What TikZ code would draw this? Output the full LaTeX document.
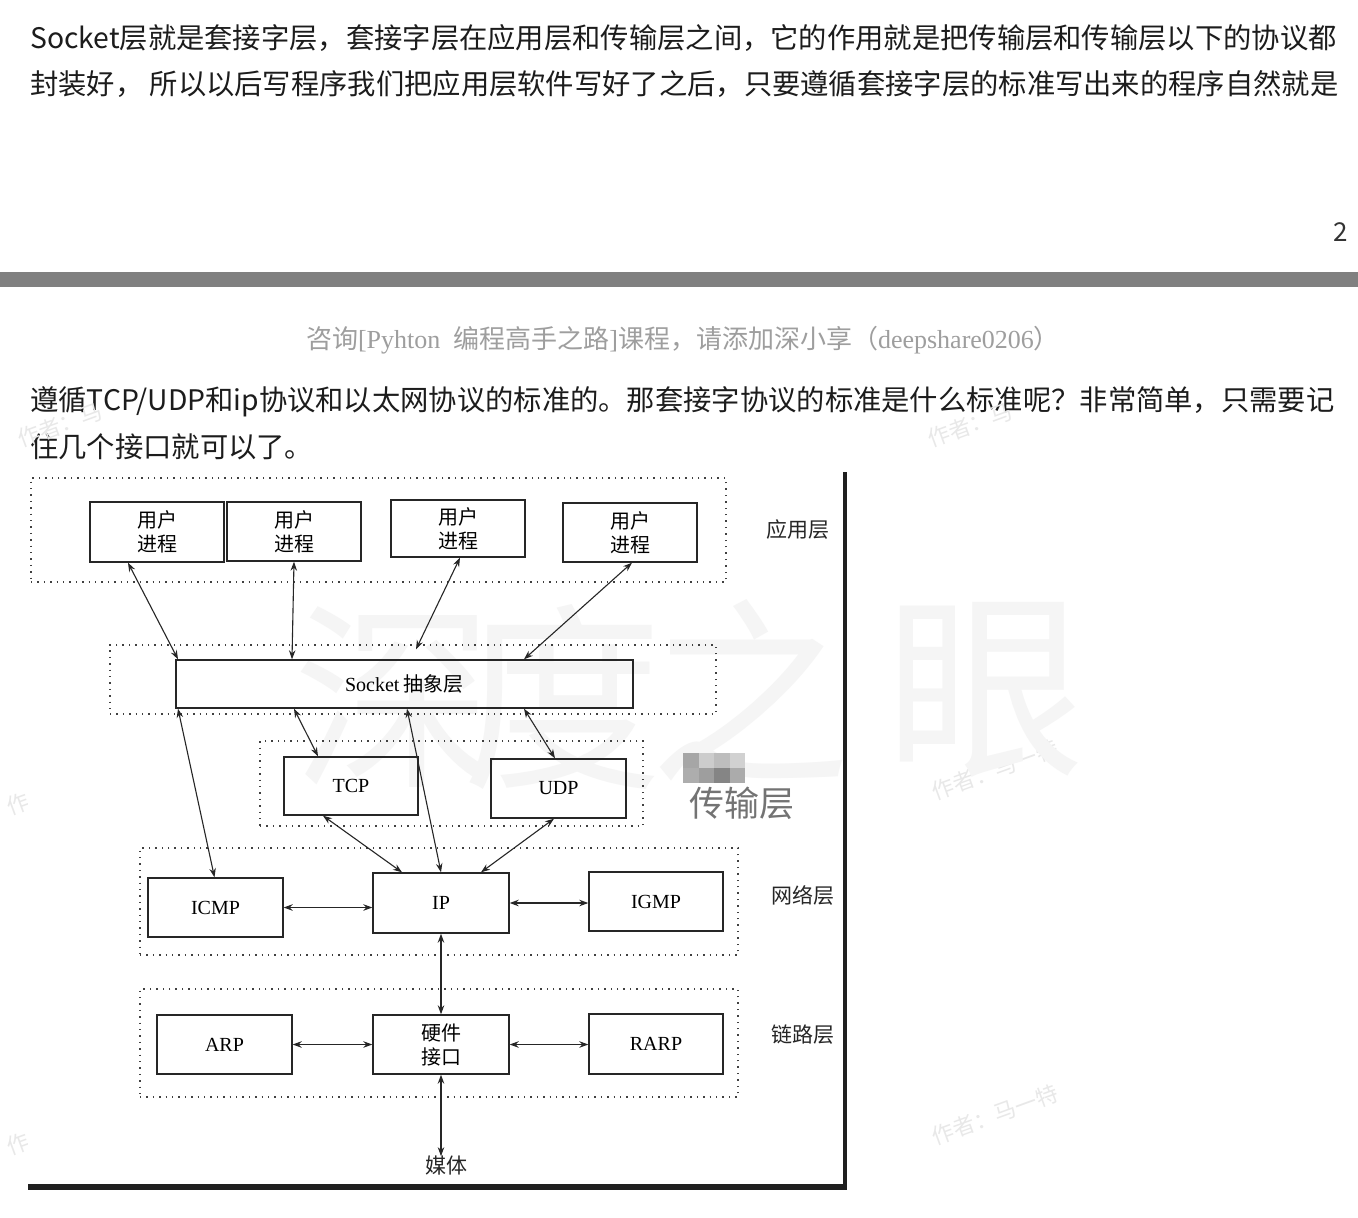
\documentclass[tikz,border=0pt]{standalone}
\usepackage{fontspec}
\usetikzlibrary{arrows.meta,calc}
\setmainfont{Noto Sans CJK SC}
\newfontfamily\cjk{Noto Sans CJK SC}
\newfontfamily\lser{Liberation Serif}
\definecolor{bodytxt}{HTML}{1C1C1C}
\begin{document}
\begin{tikzpicture}[x=1pt,y=-1pt,
  box/.style={draw=black!85,line width=1.4pt,inner sep=0pt,align=center,font=\cjk\fontsize{20}{24}\selectfont},
  lbox/.style={box,font=\lser\fontsize{20}{24}\selectfont},
  grp/.style={draw=black!75,line width=1.4pt,dash pattern=on 1.4pt off 5pt,inner sep=0pt},
  arr/.style={draw=black!85,line width=1.1pt,{Stealth[length=9pt,width=6.5pt]}-{Stealth[length=9pt,width=6.5pt]}},
  layer/.style={font=\cjk\fontsize{21}{24}\selectfont,text=black!85,inner sep=0pt},
  wm/.style={text=black!9,font=\cjk\fontsize{22}{24}\selectfont,rotate=20,inner sep=0pt},
  bigwm/.style={text=black!4,font=\cjk\fontsize{200}{200}\selectfont,inner sep=0pt},
  body/.style={anchor=west,inner sep=0pt,text=bodytxt,font=\cjk\fontsize{28.3}{34}\selectfont}]
\fill[white] (0,0) rectangle (1358,1218);
\useasboundingbox (0,0) rectangle (1358,1218);

% top text
\node[body] (t1) at (30,38) {Socket层就是套接字层，套接字层在应用层和传输层之间，它的作用就是把传输层和传输层以下的协议都};
\node[body] (t2) at (30,84) {封装好， 所以以后写程序我们把应用层软件写好了之后，只要遵循套接字层的标准写出来的程序自然就是};
\node[anchor=east,inner sep=0pt,font=\cjk\fontsize{26}{30}\selectfont,text=black!80] (pg) at (1348,232) {2};
\fill[black!50] (0,272) rectangle (1358,287);
\node[inner sep=0pt,text=black!38,font=\cjk\fontsize{26}{30}\selectfont] (cap) at (683,340)
  {咨询{\lser[Pyhton\ \ }编程高手之路{\lser]}课程，请添加深小享（{\lser deepshare0206}）};
\node[body] (t3) at (30,402) {遵循TCP/UDP和ip协议和以太网协议的标准的。那套接字协议的标准是什么标准呢？非常简单，只需要记};
\node[body] (t4) at (30,447) {住几个接口就可以了。};

% small watermarks
\node[wm] (w1) at (60,425) {作者：马};
\node[wm] (w2) at (970,425) {作者：马};
\node[wm] (w3) at (70,785) {作者：马一特};
\node[wm] (w4) at (995,770) {作者：马一特};
\node[wm] (w5) at (70,1125) {作者：马一特};
\node[wm] (w6) at (995,1115) {作者：马一特};

% diagram background and frame
\fill[white] (28,472) rectangle (843,1184);
\fill[black!88] (843,472) rectangle (846.5,1190);
\fill[black!88] (28,1184) rectangle (846.5,1190);

% big watermark
\node[bigwm] (b1) at (393,697) {深};
\node[bigwm] (b2) at (562,697) {度};
\node[bigwm] (b3) at (750,690) {之};
\node[bigwm] (b4) at (985,690) {眼};

% group boxes
\node[grp,minimum width=695pt,minimum height=104pt] (gapp) at (378.5,530) {};
\node[grp,minimum width=606pt,minimum height=69pt] (gsock) at (413,679.5) {};
\node[grp,minimum width=383pt,minimum height=85pt] (gtrans) at (451.5,783.5) {};
\node[grp,minimum width=598pt,minimum height=107pt] (gnet) at (439,901.5) {};
\node[grp,minimum width=598pt,minimum height=108pt] (glink) at (439,1043) {};

% boxes
\node[box,minimum width=134pt,minimum height=60pt] (u1) at (157,532) {用户\\进程};
\node[box,minimum width=134pt,minimum height=59pt] (u2) at (294,531.5) {用户\\进程};
\node[box,minimum width=134pt,minimum height=57pt] (u3) at (458,528.5) {用户\\进程};
\node[box,minimum width=134pt,minimum height=59pt] (u4) at (630,532.5) {用户\\进程};
\node[box,minimum width=457pt,minimum height=48pt] (sock) at (404.5,684) {{\lser Socket} 抽象层};
\node[lbox,minimum width=134pt,minimum height=58pt] (tcp) at (351,786) {TCP};
\node[lbox,minimum width=135pt,minimum height=59pt] (udp) at (558.5,788.5) {UDP};
\node[lbox,minimum width=135pt,minimum height=59pt] (icmp) at (215.5,907.5) {ICMP};
\node[lbox,minimum width=136pt,minimum height=60pt] (ip) at (441,903) {IP};
\node[lbox,minimum width=134pt,minimum height=59pt] (igmp) at (656,901.5) {IGMP};
\node[lbox,minimum width=135pt,minimum height=59pt] (arp) at (224.5,1044.5) {ARP};
\node[box,minimum width=136pt,minimum height=59pt] (hw) at (441,1044.5) {硬件\\接口};
\node[lbox,minimum width=134pt,minimum height=60pt] (rarp) at (656,1044) {RARP};
\node[layer] (media) at (446,1166) {媒体};

% layer labels
\node[layer] (lapp) at (798,530) {应用层};
\node[layer] (lnet) at (803,895) {网络层};
\node[layer] (llink) at (803,1035) {链路层};
\node[inner sep=0pt,text=black!55,font=\cjk\fontsize{35}{38}\selectfont] (ltrans) at (742,803) {传输层};

% mosaic
\fill[black!35] (683,753) rectangle ++(15.5,15);
\fill[black!20] (698.5,753) rectangle ++(15.5,15);
\fill[black!26] (714,753) rectangle ++(15.5,15);
\fill[black!18] (729.5,753) rectangle ++(15.5,15);
\fill[black!32] (683,768) rectangle ++(15.5,15);
\fill[black!38] (698.5,768) rectangle ++(15.5,15);
\fill[black!48] (714,768) rectangle ++(15.5,15);
\fill[black!33] (729.5,768) rectangle ++(15.5,15);

% connectors
\draw[arr] ([xshift=-29pt]u1.south) -- ([xshift=-226.5pt]sock.north);
\draw[arr] (u2.south) -- ([xshift=-112.5pt]sock.north);
\draw[arr] ([xshift=2pt]u3.south) -- ([xshift=3pt,yshift=-5pt]gsock.north);
\draw[arr] ([xshift=2pt]u4.south) -- ([xshift=119.5pt]sock.north);
\draw[arr] ([xshift=-226.5pt]sock.south) -- ([xshift=-1pt]icmp.north);
\draw[arr] ([xshift=-110.5pt]sock.south) -- ([xshift=-33pt]tcp.north);
\draw[arr] ([xshift=2.5pt]sock.south) -- (ip.north);
\draw[arr] ([xshift=119.5pt]sock.south) -- ([xshift=-3.5pt]udp.north);
\draw[arr] ([xshift=-28pt]tcp.south) -- ([xshift=-39pt]ip.north);
\draw[arr] ([xshift=-4.5pt]udp.south) -- ([xshift=40pt]ip.north);
\draw[arr] (icmp.east) -- (icmp.east -| ip.west);
\draw[arr] (ip.east) -- (ip.east -| igmp.west);
\draw[arr] (ip.south) -- (hw.north);
\draw[arr] (arp.east) -- (arp.east -| hw.west);
\draw[arr] (hw.east) -- (hw.east -| rarp.west);
\draw[arr] (hw.south) -- (hw.south |- media.north);
\end{tikzpicture}
\end{document}
